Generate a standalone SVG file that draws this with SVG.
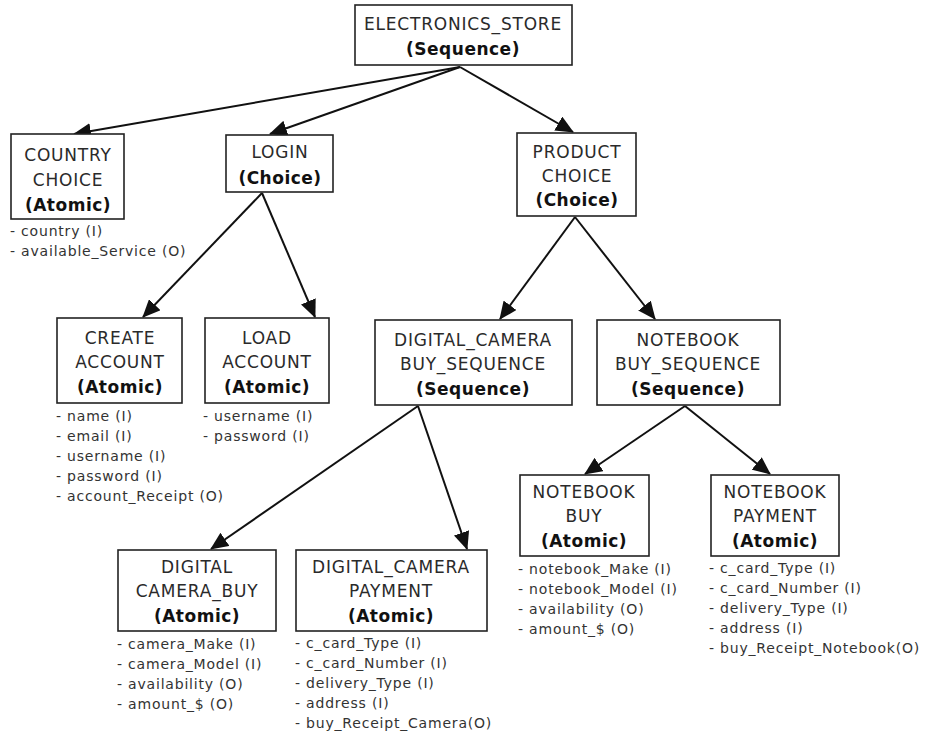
<svg xmlns="http://www.w3.org/2000/svg" width="934" height="736" viewBox="0 0 934 736">
<style>
.box{fill:#fff;stroke:#222;stroke-width:1.6}
.t{font-family:"DejaVu Sans","Liberation Sans",sans-serif;font-size:17px;letter-spacing:0.8px;fill:#2a2a2a;text-anchor:middle}
.b{font-weight:bold;fill:#111;letter-spacing:0.5px}
.a{font-family:"DejaVu Sans","Liberation Sans",sans-serif;font-size:14px;letter-spacing:0.8px;fill:#333}
.c{stroke:#111;stroke-width:2;fill:none;marker-end:url(#ah)}
</style>
<defs>
<marker id="ah" viewBox="0 0 18 16" refX="17" refY="8" markerWidth="18" markerHeight="16" markerUnits="userSpaceOnUse" orient="auto">
<path d="M0,0 L18,8 L0,16 z" fill="#111"/>
</marker>
</defs>
<rect width="934" height="736" fill="#fff"/>
<g id="connectors">
<line class="c" x1="460" y1="67" x2="74" y2="134"/>
<line class="c" x1="460" y1="67" x2="270" y2="134"/>
<line class="c" x1="460" y1="67" x2="573" y2="132"/>
<line class="c" x1="262" y1="193" x2="143" y2="317"/>
<line class="c" x1="262" y1="193" x2="315" y2="317"/>
<line class="c" x1="575" y1="217" x2="500" y2="319"/>
<line class="c" x1="575" y1="217" x2="655" y2="319"/>
<line class="c" x1="418" y1="406" x2="211" y2="549"/>
<line class="c" x1="418" y1="406" x2="467" y2="549"/>
<line class="c" x1="685" y1="406" x2="585" y2="474"/>
<line class="c" x1="685" y1="406" x2="770" y2="474"/>
</g>
<g id="electronics_store">
<rect class="box" x="355" y="5" width="217" height="60"/>
<text class="t" x="463" y="30">ELECTRONICS_STORE</text>
<text class="t b" x="463" y="55">(Sequence)</text>
</g>
<g id="country_choice">
<rect class="box" x="11" y="134" width="113" height="85"/>
<text class="t" x="68" y="161">COUNTRY</text>
<text class="t" x="68" y="186">CHOICE</text>
<text class="t b" x="68" y="211">(Atomic)</text>
<text class="a" x="10" y="236">- country (I)</text>
<text class="a" x="10" y="256">- available_Service (O)</text>
</g>
<g id="login">
<rect class="box" x="226" y="135" width="107" height="57"/>
<text class="t" x="280" y="158">LOGIN</text>
<text class="t b" x="280" y="184">(Choice)</text>
</g>
<g id="product_choice">
<rect class="box" x="517" y="133" width="119" height="83"/>
<text class="t" x="577" y="158">PRODUCT</text>
<text class="t" x="577" y="182">CHOICE</text>
<text class="t b" x="577" y="206">(Choice)</text>
</g>
<g id="create_account">
<rect class="box" x="57" y="318" width="125" height="85"/>
<text class="t" x="120" y="344">CREATE</text>
<text class="t" x="120" y="368">ACCOUNT</text>
<text class="t b" x="120" y="393">(Atomic)</text>
<text class="a" x="56" y="421">- name (I)</text>
<text class="a" x="56" y="441">- email (I)</text>
<text class="a" x="56" y="461">- username (I)</text>
<text class="a" x="56" y="481">- password (I)</text>
<text class="a" x="56" y="501">- account_Receipt (O)</text>
</g>
<g id="load_account">
<rect class="box" x="205" y="318" width="124" height="85"/>
<text class="t" x="267" y="344">LOAD</text>
<text class="t" x="267" y="368">ACCOUNT</text>
<text class="t b" x="267" y="393">(Atomic)</text>
<text class="a" x="203" y="421">- username (I)</text>
<text class="a" x="203" y="441">- password (I)</text>
</g>
<g id="digital_camera_buy_sequence">
<rect class="box" x="375" y="320" width="197" height="85"/>
<text class="t" x="473" y="346">DIGITAL_CAMERA</text>
<text class="t" x="473" y="370">BUY_SEQUENCE</text>
<text class="t b" x="473" y="395">(Sequence)</text>
</g>
<g id="notebook_buy_sequence">
<rect class="box" x="597" y="320" width="183" height="85"/>
<text class="t" x="688" y="346">NOTEBOOK</text>
<text class="t" x="688" y="370">BUY_SEQUENCE</text>
<text class="t b" x="688" y="395">(Sequence)</text>
</g>
<g id="notebook_buy">
<rect class="box" x="520" y="475" width="129" height="81"/>
<text class="t" x="584" y="498">NOTEBOOK</text>
<text class="t" x="584" y="522">BUY</text>
<text class="t b" x="584" y="547">(Atomic)</text>
<text class="a" x="518" y="574">- notebook_Make (I)</text>
<text class="a" x="518" y="594">- notebook_Model (I)</text>
<text class="a" x="518" y="614">- availability (O)</text>
<text class="a" x="518" y="634">- amount_$ (O)</text>
</g>
<g id="notebook_payment">
<rect class="box" x="711" y="475" width="128" height="81"/>
<text class="t" x="775" y="498">NOTEBOOK</text>
<text class="t" x="775" y="522">PAYMENT</text>
<text class="t b" x="775" y="547">(Atomic)</text>
<text class="a" x="709" y="573">- c_card_Type (I)</text>
<text class="a" x="709" y="593">- c_card_Number (I)</text>
<text class="a" x="709" y="613">- delivery_Type (I)</text>
<text class="a" x="709" y="633">- address (I)</text>
<text class="a" x="709" y="653">- buy_Receipt_Notebook(O)</text>
</g>
<g id="digital_camera_buy">
<rect class="box" x="118" y="550" width="158" height="81"/>
<text class="t" x="197" y="573">DIGITAL</text>
<text class="t" x="197" y="597">CAMERA_BUY</text>
<text class="t b" x="197" y="622">(Atomic)</text>
<text class="a" x="117" y="649">- camera_Make (I)</text>
<text class="a" x="117" y="669">- camera_Model (I)</text>
<text class="a" x="117" y="689">- availability (O)</text>
<text class="a" x="117" y="709">- amount_$ (O)</text>
</g>
<g id="digital_camera_payment">
<rect class="box" x="296" y="550" width="191" height="81"/>
<text class="t" x="391" y="573">DIGITAL_CAMERA</text>
<text class="t" x="391" y="597">PAYMENT</text>
<text class="t b" x="391" y="622">(Atomic)</text>
<text class="a" x="295" y="648">- c_card_Type (I)</text>
<text class="a" x="295" y="668">- c_card_Number (I)</text>
<text class="a" x="295" y="688">- delivery_Type (I)</text>
<text class="a" x="295" y="708">- address (I)</text>
<text class="a" x="295" y="728">- buy_Receipt_Camera(O)</text>
</g>
</svg>
